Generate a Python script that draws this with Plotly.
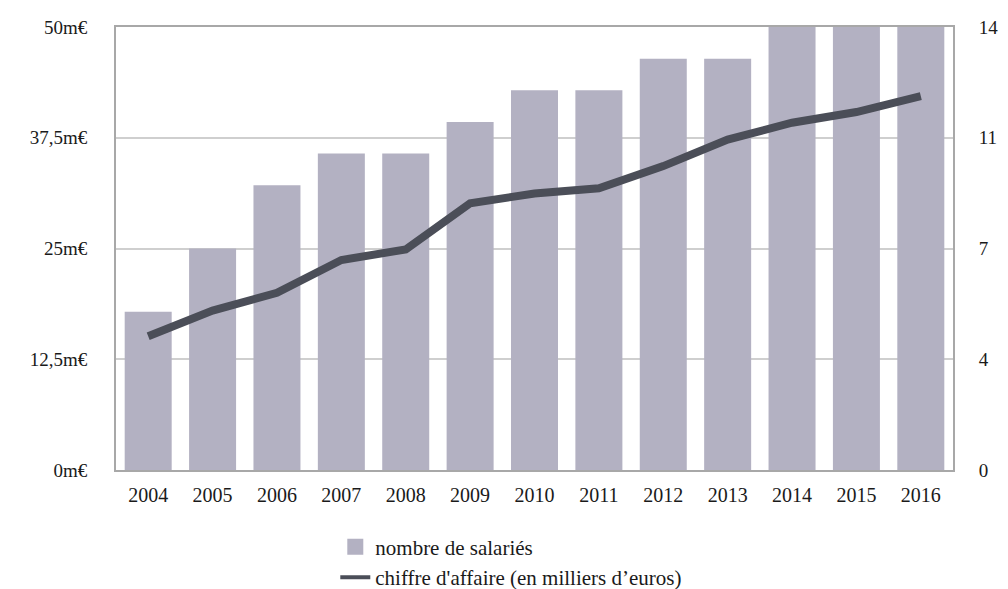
import plotly.graph_objects as go

years = ["2004", "2005", "2006", "2007", "2008", "2009", "2010",
         "2011", "2012", "2013", "2014", "2015", "2016"]
salaries = [5, 7, 9, 10, 10, 11, 12, 12, 13, 13, 14, 14, 14]
chiffre = [15.1, 18.0, 20.0, 23.7, 24.9, 30.1, 31.2, 31.8, 34.3, 37.3, 39.2, 40.4, 42.2]

left_vals = [0, 12.5, 25, 37.5, 50]
left_text = ["0m€", "12,5m€", "25m€", "37,5m€", "50m€"]
right_vals = [0, 3.5, 7, 10.5, 14]
right_text = ["0", "4", "7", "11", "14"]

FONT = "Liberation Serif"
BAR_COLOR = "#b3b1c2"
LINE_COLOR = "#4b4e58"
TEXT_COLOR = "#1a1a1a"

fig = go.Figure()
fig.add_trace(go.Bar(
    x=years, y=salaries, name="nombre de salariés",
    marker=dict(color=BAR_COLOR, line=dict(width=0)),
    yaxis="y", showlegend=False,
))
fig.add_trace(go.Scatter(
    x=years, y=chiffre, name="chiffre d'affaire (en milliers d’euros)",
    mode="lines", line=dict(color=LINE_COLOR, width=8),
    yaxis="y2", showlegend=False,
))
# legend entries (styled like the reference legend keys)
fig.add_trace(go.Scatter(
    x=[None], y=[None], name="nombre de salariés", mode="markers",
    marker=dict(symbol="square", color=BAR_COLOR, size=22), yaxis="y2",
))
fig.add_trace(go.Scatter(
    x=[None], y=[None], name="chiffre d'affaire (en milliers d’euros)",
    mode="lines", line=dict(color=LINE_COLOR, width=4), yaxis="y2",
))

# the page body adds an 8px offset; the figure is sized to compensate
fig.update_layout(
    width=1000, height=581,
    margin=dict(l=108, r=55, t=19, b=119, autoexpand=False),
    paper_bgcolor="white", plot_bgcolor="white",
    font=dict(family=FONT, size=18, color=TEXT_COLOR),
    bargap=0.27,
    showlegend=True,
    legend=dict(
        orientation="v", x=0.262, xanchor="left", y=-0.128, yanchor="top",
        font=dict(family=FONT, size=21, color=TEXT_COLOR),
        tracegroupgap=0, itemwidth=30, itemsizing="trace",
    ),
    xaxis=dict(
        showgrid=False, showline=True, linecolor="#a8a8a8", linewidth=2,
        mirror=True, ticks="outside", ticklen=6, tickcolor="rgba(0,0,0,0)",
        tickfont=dict(family=FONT, size=20, color=TEXT_COLOR),
        automargin=False,
    ),
    yaxis=dict(
        side="right", range=[0, 14], tickvals=right_vals, ticktext=right_text,
        showgrid=True, gridcolor="#cfcfcf", gridwidth=2,
        showline=True, linecolor="#a8a8a8", linewidth=2, mirror=True,
        ticks="outside", ticklen=20, tickcolor="rgba(0,0,0,0)",
        tickfont=dict(family=FONT, size=19, color=TEXT_COLOR),
        zeroline=False, automargin=False,
    ),
    yaxis2=dict(
        side="left", overlaying="y", range=[0, 50],
        tickvals=left_vals, ticktext=left_text,
        showgrid=False, showline=False, zeroline=False,
        ticks="outside", ticklen=24, tickcolor="rgba(0,0,0,0)",
        tickfont=dict(family=FONT, size=19, color=TEXT_COLOR),
        automargin=False,
    ),
)

fig.write_html("out.html")
